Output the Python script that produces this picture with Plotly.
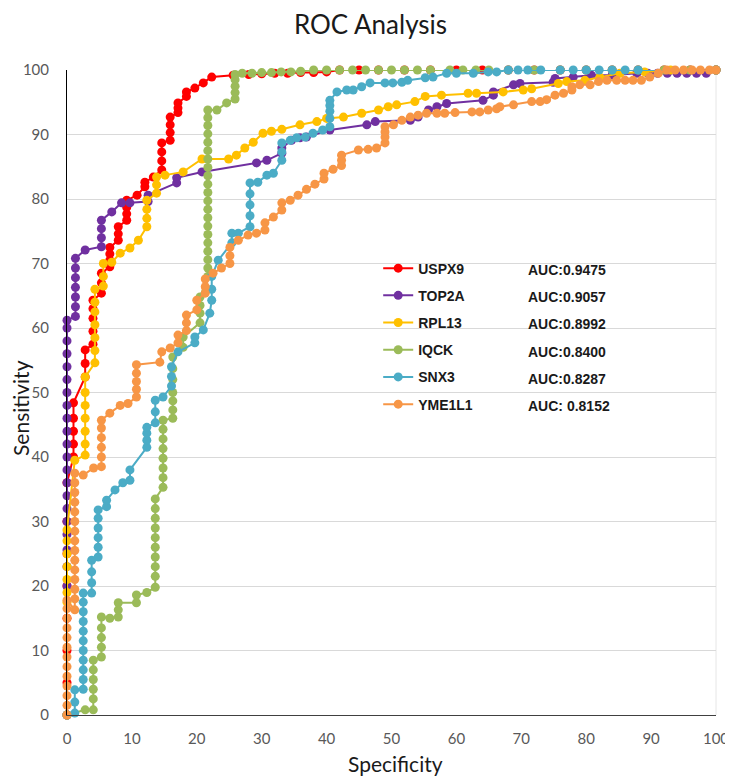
import plotly.graph_objects as go

series_names = ["USPX9", "TOP2A", "RPL13", "IQCK", "SNX3", "YME1L1"]
auc_labels = ["AUC:0.9475", "AUC:0.9057", "AUC:0.8992", "AUC:0.8400", "AUC:0.8287", "AUC: 0.8152"]
tick_vals = [0, 10, 20, 30, 40, 50, 60, 70, 80, 90, 100]

# ---- USPX9 ----
uspx9_x = [0, 0, 0, 0, 0, 0, 0, 0,
           1, 1, 1, 1, 1,
           2.8, 2.8, 2.8,
           4, 4, 4, 4, 4,
           5.3, 5.3, 5.3,
           6.6, 6.6, 6.6, 6.6,
           7.9, 7.9, 7.9,
           9.2, 9.2, 9.2, 9.2,
           10.8, 12, 12, 13.3,
           14.6, 14.6, 14.6, 14.6,
           15.9, 15.9, 15.9, 15.9,
           17.1, 17.1, 17.1,
           18.4, 18.4, 19.7, 21, 22.3,
           25.6, 28, 30, 32, 34, 36, 38, 40, 42, 45, 48, 52, 56, 60, 64, 68, 72, 76, 80, 84, 88, 92, 96, 100]
uspx9_y = [0, 5, 10, 15, 20, 25, 30, 36,
           40, 42, 44, 46, 48.4,
           52.4, 54.5, 56.6,
           57.5, 59.5, 61.5, 63, 64.3,
           65.4, 67, 68.5,
           69.5, 70.5, 71.5, 72.5,
           73.6, 74.6, 75.7,
           76.7, 77.7, 78.7, 79.8,
           80.6, 81.9, 82.6, 83.4,
           84.5, 85.9, 87.3, 88.7,
           89.1, 90.3, 91.5, 92.7,
           93.4, 94.1, 94.9,
           95.9, 96.6, 97.2, 98, 98.9,
           99.2, 99.3, 99.4, 99.5, 99.5, 99.6, 99.6, 99.7, 100, 100, 100, 100, 100, 100, 100, 100, 100, 100, 100, 100, 100, 100, 100, 100]

# ---- TOP2A ----
top2a_x = [0, 0, 0, 0, 0, 0, 0, 0, 0, 0, 0, 0, 0, 0, 0, 0, 0, 0, 0, 0, 0, 0,
           1.3, 1.3, 1.3, 1.3, 1.3, 1.3, 1.3,
           2.8, 5.3, 5.3, 5.3, 5.3, 6.9, 8.4, 9.7, 12.5, 12.5,
           16.9, 16.9, 20.8, 29.2, 30.8, 33.1, 33.1, 34.6, 35.9, 36.9,
           40.5, 46.2, 47.5, 52.9, 54.1, 55.7, 57, 58.5, 64.1, 65.7, 65.7,
           68.8, 69.8, 74.9, 75.2, 78, 80.8, 84, 87.8, 89.5, 91, 92.5, 94, 95.5, 97, 98.5, 100]
top2a_y = [0, 20, 23, 25.6, 28, 30, 32, 34, 36, 38, 40, 42, 44, 46, 48, 50, 52, 54, 56, 58, 60, 61.2,
           61.8, 63.3, 64.8, 66.3, 67.8, 69.3, 70.8,
           72.1, 72.6, 74, 75.4, 76.7, 78, 79.4, 79.4, 79.6, 80.6,
           82.5, 83.3, 84.2, 85.6, 86, 87.1, 87.9, 89.1, 89.5, 89.6,
           90.7, 91.5, 92, 92.2, 92.7, 93.8, 94.3, 94.8, 95.3, 96.1, 96.6,
           97.7, 97.9, 98.1, 98.7, 98.9, 99.2, 99.2, 99.5, 99.5, 99.5, 99.5, 99.5, 99.5, 99.5, 99.5, 100]

# ---- RPL13 ----
rpl13_x = [0, 0, 0, 0, 0, 0, 0, 0,
           1.2, 2.8, 2.8, 2.8, 2.8, 2.8, 2.8, 2.8,
           4.3, 4.3, 4.3, 4.3, 4.3, 4.3, 4.3,
           5.6, 5.6, 5.6, 6.9, 8.2, 9.7, 11,
           12.3, 12.3, 12.3, 12.3, 13.8, 13.8, 13.8, 15.1, 17.9,
           20.8, 24.9, 26.1, 27.4, 28.7, 30.2, 31.5, 33.1, 35.9, 38.5, 40, 42.6,
           45.4, 48, 49.5, 50.8, 53.6, 55.2, 57.7, 61.8, 63.1, 67.2, 70.3, 71.6,
           75.7, 77, 79.8, 82.1, 85.2, 89, 93, 100]
rpl13_y = [0, 17.5, 19, 21, 23, 25, 27, 28.7,
           39.5, 40.3, 42, 44, 46, 48, 50, 52.4,
           54.6, 56.5, 58.5, 60.5, 62.5, 64, 66,
           66.5, 68, 70, 70.2, 71.6, 72.4, 73.6,
           75.7, 77, 78.4, 79.8, 80.9, 82.2, 83.4, 83.7, 84.2,
           86.2, 86.2, 86.8, 87.9, 88.8, 90.2, 90.5, 90.8, 91.5, 92, 92.5, 92.7,
           93.3, 93.8, 94.3, 94.6, 95.1, 95.9, 96.1, 96.4, 96.4, 96.6, 96.9, 97.1,
           97.9, 98.2, 98.4, 98.9, 99.5, 99.7, 100, 100]

# ---- IQCK ----
iqck_x = [0, 2.8, 4.05, 4.05, 4.05, 4.05, 4.05, 4.05,
          5.3, 5.3, 5.3, 5.3, 5.3, 6.6, 7.9, 7.9, 7.9, 10.7, 10.7, 12.3,
          13.6, 13.6, 13.6, 13.6, 13.6, 13.6, 13.6, 13.6, 13.6, 13.6,
          14.8, 14.8, 14.8, 14.8, 14.8, 14.8, 14.8, 14.8,
          16.3, 16.3, 16.3, 16.3, 16.3, 16.3, 16.3,
          17.9, 17.9, 20.5, 20.5, 20.5, 20.5,
          21.7, 21.7, 21.7, 21.7, 21.7, 21.7, 21.7, 21.7, 21.7, 21.7, 21.7,
          21.7, 21.7, 21.7, 21.7, 21.7, 21.7, 21.7, 21.7, 21.7, 21.7,
          23.1, 24.6, 25.9, 25.9, 25.9, 25.9, 25.9,
          27, 28.5, 30, 31.5, 33, 34.5, 36, 38, 40, 42, 44, 46, 48, 50, 52, 54, 56,
          59, 61, 63, 65, 68, 72, 76, 80, 84, 88, 92, 96, 100]
iqck_y = [0, 0.8, 0.8, 2.5, 4, 5.5, 7, 8.5,
          9, 10.5, 12, 13.5, 15.2, 15, 15.2, 16.3, 17.4, 17.4, 18.6, 19,
          19.8, 21.5, 23, 24.5, 26, 27.5, 29, 30.5, 32, 33.5,
          35.3, 36.8, 38.3, 39.8, 41.3, 42.8, 44.3, 45.7,
          46, 47.3, 48.7, 50, 52, 53.7, 55.5,
          57, 58.6, 60.8, 62.3, 63.5, 64.8,
          68, 69.3, 70.6, 71.9, 73.2, 74.5, 75.8, 77.1, 78.4, 79.7, 81,
          82.3, 83.6, 84.9, 86.2, 87.5, 88.8, 90.1, 91.4, 92.6, 93.8,
          93.8, 94.9, 95.5, 96.5, 97.5, 98.5, 99.3,
          99.5, 99.5, 99.6, 99.6, 99.7, 99.7, 99.8, 100, 100, 100, 100, 100, 100, 100, 100, 100, 100,
          100, 100, 100, 100, 100, 100, 100, 100, 100, 100, 100, 100, 100]

# ---- SNX3 ----
snx3_x = [0, 1.2, 1.2, 1.2,
          2.5, 2.5, 2.5, 2.5, 2.5, 2.5, 2.5, 2.5, 2.5, 2.5, 2.5,
          3.8, 3.8, 3.8, 3.8, 4.8, 4.8, 4.8, 4.8, 4.8, 4.8,
          6.1, 6.1, 7.4, 8.6, 9.7, 9.7, 12.3, 12.3, 12.3, 12.3, 13.6, 13.6, 13.6, 14.8,
          16.1, 16.1, 16.1, 17.1, 19.7, 19.7, 21, 22, 22.3, 22.3, 22.3, 23.3,
          25.4, 25.4, 26.4, 28.2, 28.2, 28.2, 28.2, 28.2, 29.4, 30.8, 31.8,
          33.1, 33.1, 33.1, 34.4, 35.4, 36.7, 37.9, 39.4,
          40.5, 40.5, 40.5, 40.5, 40.5, 41.6, 43.1, 44.1, 45.4, 46.7, 49, 50.2, 51.6, 52.5,
          55.2, 56.4, 58.5, 60, 62.6, 64.9, 66.2, 68, 69.5, 71, 73, 76, 78, 80, 82, 84, 86, 88, 100]
snx3_y = [0, 0.3, 2, 3.9,
          4, 5.5, 7, 8.5, 10, 11.5, 13, 14.5, 16, 17.5, 18.9,
          18.9, 20.5, 22.2, 24, 24.5, 26, 27.5, 29, 30.5, 31.8,
          32.3, 33.3, 34.9, 36, 36.4, 38, 41.5, 42.6, 43.7, 44.6, 45.3, 47, 48.8, 49.3,
          51, 52.5, 54, 56.3, 57.7, 58.6, 59.7, 62.3, 64.3, 66, 68, 70.5,
          73.2, 74.7, 74.7, 75.7, 77.4, 79.1, 80.8, 82.5, 82.6, 83.7, 84,
          86, 87.3, 88.7, 89.1, 89.5, 89.6, 90.2, 90.7,
          91.2, 92.5, 93.6, 94.5, 95.3, 96.6, 96.9, 96.9, 97.4, 98, 98, 98, 98.1, 98.4,
          98.8, 98.9, 99.5, 99.5, 99.5, 99.7, 99.7, 100, 100, 100, 100, 100, 100, 100, 100, 100, 100, 100, 100]

# ---- YME1L1 ----
yme1l1_x = [0, 0, 0, 0, 0, 0, 0, 0, 0, 0, 0, 0, 0,
            1.2, 1.2, 1.2, 1.2, 1.2, 1.2, 1.2, 1.2, 1.2, 1.2, 1.2, 1.2, 1.2, 1.2, 1.2,
            2.5, 4.1, 5.3, 5.3, 5.3, 5.3, 5.3, 5.3, 6.6, 8.2, 9.4,
            10.7, 10.7, 10.7, 10.7, 10.7, 14.3, 14.6, 15.9, 17.1, 17.1,
            18.4, 18.4, 18.4, 20, 20, 21.3, 21.3, 21.3, 22.5, 23.8,
            25.1, 25.1, 25.1, 26.4, 27.9, 29.2, 30.5, 30.5, 31.8, 33.1, 33.1,
            34.4, 35.6, 36.9, 38.2, 39.6, 39.6, 41, 42.3, 42.3, 42.3,
            44.9, 46.4, 47.7, 49, 49, 49, 49, 50.3, 51.6, 52.9, 54.1, 55.4,
            57, 58.2, 59.8, 62.4, 63.6, 64.9, 66.2, 66.7, 68.8, 71.6, 72.9, 73.9,
            75.2, 76.5, 77.8, 77.8, 79, 80.6, 81.9, 83.2, 84.7, 86, 87.2, 88.5,
            89.8, 91.1, 92.4, 93.7, 95, 96.3, 97.6, 99, 100]
yme1l1_y = [0, 1.5, 3, 4.5, 6, 7.5, 9, 10.5, 12, 13.5, 15, 16.5, 17.8,
            16.3, 18, 19.5, 21, 22.5, 24, 25.5, 27, 28.5, 30, 31.5, 33, 34.5, 36, 37.5,
            37.2, 38.3, 38.5, 40, 41.5, 43, 44.5, 45.7, 46.8, 48, 48.3,
            49.3, 50.5, 51.7, 53, 54.3, 54.7, 56.3, 56.9, 57.7, 58.9,
            59.6, 60.8, 62, 62.8, 64.3, 65.4, 66.4, 67.6, 68.5, 69.3,
            70, 71.2, 72.5, 73.6, 74.4, 74.7, 75.2, 76.3, 77.2, 78.3, 79.4,
            79.8, 80.6, 81.5, 82.3, 83.1, 84, 84.6, 85.2, 86, 86.8,
            87.6, 87.7, 87.9, 88.7, 89.6, 90.4, 91.2, 91.5, 92.2, 92.7, 93, 93.3,
            93.3, 93.3, 93.4, 93.5, 93.5, 93.8, 94, 94.3, 94.6, 95.1, 95.1, 95.4,
            96.1, 96.4, 96.9, 97.4, 97.7, 97.7, 98.2, 98.4, 98.4, 98.4, 98.4, 98.4,
            98.9, 99.5, 100, 100, 100, 100, 100, 100, 100]

series_x = [uspx9_x, top2a_x, rpl13_x, iqck_x, snx3_x, yme1l1_x]
series_y = [uspx9_y, top2a_y, rpl13_y, iqck_y, snx3_y, yme1l1_y]
for sx, sy in zip(series_x, series_y):
    assert len(sx) == len(sy), (len(sx), len(sy))

colors = ["#FF0000", "#7030A0", "#FFC000", "#9BBB59", "#4BACC6", "#F79646"]

fig = go.Figure()
for i, name in enumerate(series_names):
    fig.add_trace(go.Scatter(
        x=series_x[i], y=series_y[i], name=name,
        mode="lines+markers", legendgroup=name,
        line=dict(color=colors[i], width=2),
        marker=dict(color=colors[i], size=9, line=dict(width=0)),
        cliponaxis=False,
    ))

bold_font = dict(family="Liberation Sans, Arial", size=14, color="#1a1a1a", weight="bold")
title_font = dict(family="Lato", size=21, color="#1a1a1a")
row_y = [0.690, 0.648, 0.606, 0.563, 0.521, 0.479]
annotations = []
for i, lab in enumerate(auc_labels):
    annotations.append(dict(
        x=0.708, y=row_y[i], xref="paper", yref="paper",
        xanchor="left", yanchor="middle", showarrow=False, text=lab,
        font=bold_font,
    ))
annotations.append(dict(
    x=-0.0709, y=0.476, xref="paper", yref="paper", xanchor="center", yanchor="middle",
    showarrow=False, text="Sensitivity", textangle=-90, font=title_font,
))
annotations.append(dict(
    x=0.506, y=-0.0745, xref="paper", yref="paper", xanchor="center", yanchor="middle",
    showarrow=False, text="Specificity", font=title_font,
))

# the page body adds an 8px offset, so the figure is sized/margined to compensate
fig.update_layout(
    width=725, height=778,
    margin=dict(l=59, r=17, t=62, b=71, autoexpand=False),
    paper_bgcolor="white", plot_bgcolor="white",
    title=dict(text="ROC Analysis", x=0.5, xanchor="center", y=1 - 17 / 778, yanchor="middle",
               font=dict(family="Lato", size=26, color="#1a1a1a")),
    showlegend=True,
    legend=dict(x=0.4795, y=0.717, xanchor="left", yanchor="top",
                font=bold_font, tracegroupgap=6, traceorder="grouped",
                bgcolor="rgba(0,0,0,0)", itemwidth=30),
    annotations=annotations,
    xaxis=dict(range=[0, 100], tickvals=tick_vals, showgrid=False, zeroline=False,
               showline=True, linecolor="#404040", linewidth=1, automargin=False,
               tickfont=dict(family="Lato", size=15, color="#595959"),
               ticks="", ticklabelstandoff=10),
    yaxis=dict(range=[0, 100], tickvals=tick_vals, showgrid=True, gridcolor="#D9D9D9", gridwidth=1,
               zeroline=False, showline=True, linecolor="#000000", linewidth=1, automargin=False,
               tickfont=dict(family="Lato", size=15, color="#595959"),
               ticks="", ticklabelstandoff=14),
    shapes=[dict(type="line", xref="paper", yref="paper", x0=1, x1=1, y0=0, y1=1,
                 line=dict(color="#E6E6E6", width=1), layer="below")],
)

fig.write_html("out.html")
